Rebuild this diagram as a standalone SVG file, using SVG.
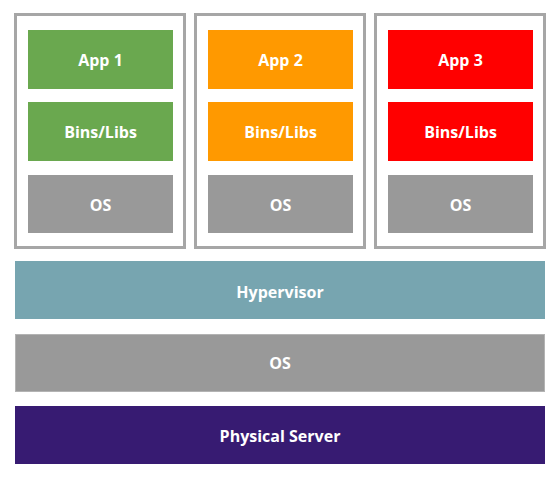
<svg xmlns="http://www.w3.org/2000/svg" width="557" height="478" viewBox="0 0 557 478">
<style>
.vm{fill:#ffffff;stroke:#a6a6a6;stroke-width:3}
.t{font-family:"Open Sans","Liberation Sans",sans-serif;font-weight:bold;font-size:16px;fill:#ffffff;text-anchor:middle}
.g{fill:#6aa84f}.o{fill:#ff9900}.r{fill:#ff0000}.os{fill:#999999}
</style>
<rect width="557" height="478" fill="#ffffff"/>
<g id="vm1">
<rect class="vm" x="15.5" y="14.5" width="169" height="233"/>
<rect class="g" x="28" y="30" width="145" height="59"/><text class="t" x="100.5" y="66">App 1</text>
<rect class="g" x="28" y="102" width="145" height="59"/><text class="t" x="100.5" y="138">Bins/Libs</text>
<rect class="os" x="28" y="175" width="145" height="58"/><text class="t" x="100.5" y="210.5">OS</text>
</g>
<g id="vm2">
<rect class="vm" x="195.5" y="14.5" width="169" height="233"/>
<rect class="o" x="208" y="30" width="145" height="59"/><text class="t" x="280.5" y="66">App 2</text>
<rect class="o" x="208" y="102" width="145" height="59"/><text class="t" x="280.5" y="138">Bins/Libs</text>
<rect class="os" x="208" y="175" width="145" height="58"/><text class="t" x="280.5" y="210.5">OS</text>
</g>
<g id="vm3">
<rect class="vm" x="375.5" y="14.5" width="169" height="233"/>
<rect class="r" x="388" y="30" width="145" height="59"/><text class="t" x="460.5" y="66">App 3</text>
<rect class="r" x="388" y="102" width="145" height="59"/><text class="t" x="460.5" y="138">Bins/Libs</text>
<rect class="os" x="388" y="175" width="145" height="58"/><text class="t" x="460.5" y="210.5">OS</text>
</g>
<g id="hypervisor">
<rect x="15" y="261" width="530" height="58" fill="#77a5b0"/><text class="t" x="280" y="298">Hypervisor</text>
</g>
<g id="hostos">
<rect x="15.5" y="334.5" width="529" height="57" fill="#999999" stroke="#b3b3b3" stroke-width="1"/><text class="t" x="280" y="369">OS</text>
</g>
<g id="server">
<rect x="15" y="406" width="530" height="58" fill="#371b72"/><text class="t" x="280" y="442">Physical Server</text>
</g>
<g id="connectors"></g>
</svg>
